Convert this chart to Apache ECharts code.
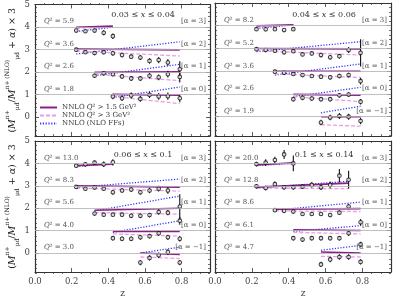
<!DOCTYPE html>
<html><head><meta charset="utf-8">
<script src="https://cdn.jsdelivr.net/npm/echarts@6/dist/echarts.min.js"></script>
<style>html,body{margin:0;padding:0;background:#fff}#c{width:399px;height:299px}</style>
</head><body><div id="c"></div>
<script>
// ---------- data ----------
const zBins = [0.225,0.275,0.325,0.375,0.425,0.475,0.525,0.575,0.625,0.675,0.725,0.79];
const xTickLabels = [0, 0.2, 0.4, 0.6, 0.8];
const yTickLabels = [0, 1, 2, 3, 4, 5];
const legendNames = ['NNLO Q² > 1.5 GeV²', 'NNLO Q² > 3 GeV²', 'NNLO (NLO FFs)'];

// top-left: 0.03 <= x <= 0.04
const tlTitle = '0.03 ≤ {i|x} ≤ 0.04';
const tlQ2 = ['5.9','3.6','2.6','1.8'];
const tlAlpha = [3,2,1,0];
const tlFirst = [0,0,2,4];
const tlLast = [4,11,11,11];
const tlVal = [
  [3.84,3.81,3.84,3.74,3.59],
  [2.99,2.88,2.84,2.88,2.83,2.75,2.68,2.64,2.49,2.53,2.42,2.12],
  [1.83,1.94,1.90,1.80,1.71,1.71,1.83,1.76,1.90,1.78],
  [0.91,0.83,0.95,0.80,0.98,0.91,0.92,0.83]
];
const tlErr = [
  [0.08,0.08,0.09,0.11,0.12],
  [0.09,0.08,0.09,0.09,0.10,0.10,0.10,0.11,0.12,0.14,0.15,0.35],
  [0.09,0.09,0.09,0.10,0.11,0.11,0.12,0.13,0.15,0.25],
  [0.12,0.12,0.13,0.13,0.14,0.15,0.16,0.18]
];
const tlSolid = [[3.99,4.04],[3.02,2.98],[1.98,2.01],[1.00,0.97]];
const tlDashed = [[3.94,4.00],[2.93,2.71],[1.90,1.61],[0.91,0.59]];
const tlDotted = [[3.80,3.99],[2.80,3.34],[1.83,2.34],[0.86,1.33]];

// top-right: 0.04 <= x <= 0.06
const trTitle = '0.04 ≤ {i|x} ≤ 0.06';
const trQ2 = ['8.2','5.2','3.6','2.6','1.9'];
const trAlpha = [3,2,1,0,-1];
const trFirst = [0,0,2,4,7];
const trLast = [4,11,11,11,11];
const trVal = [
  [3.85,3.84,3.85,3.81,3.85],
  [2.97,2.93,2.90,2.83,2.88,2.74,2.78,2.71,2.61,2.66,2.93,2.81],
  [1.98,1.93,1.88,1.83,1.79,1.76,1.73,1.79,1.83,1.56],
  [0.77,0.83,0.80,0.77,0.77,0.94,0.97,0.66],
  [-0.26,-0.04,0.03,0.00,-0.19]
];
const trErr = [
  [0.07,0.07,0.07,0.07,0.08],
  [0.08,0.08,0.08,0.08,0.08,0.08,0.09,0.10,0.10,0.10,0.13,0.60],
  [0.08,0.08,0.08,0.08,0.08,0.09,0.09,0.10,0.10,0.15],
  [0.10,0.10,0.10,0.10,0.10,0.10,0.10,0.12],
  [0.12,0.12,0.13,0.13,0.14]
];
const trSolid = [[4.00,4.04],[3.00,2.98],[2.00,2.00],[0.98,0.95],[0.00,0.00]];
const trDashed = [[3.95,4.02],[2.90,2.71],[1.88,1.72],[0.88,0.66],[-0.35,-0.42]];
const trDotted = [[3.88,4.04],[2.86,3.30],[1.83,2.32],[0.88,1.29],[0.17,0.46]];

// bottom-left: 0.06 <= x <= 0.1
const blTitle = '0.06 ≤ {i|x} ≤ 0.1';
const blQ2 = ['13.0','8.3','5.6','4.0','3.0'];
const blAlpha = [3,2,1,0,-1];
const blFirst = [0,0,2,4,7];
const blLast = [4,11,11,11,11];
const blVal = [
  [3.90,3.96,4.03,3.96,4.05],
  [2.95,2.87,2.92,2.87,2.71,2.79,2.83,2.71,2.79,2.87,2.79,2.07],
  [1.76,1.71,1.71,1.71,1.66,1.66,1.69,1.83,1.80,1.44],
  [0.66,0.63,0.63,0.70,0.75,0.88,0.70,0.63],
  [-0.43,-0.22,-0.10,0.04,-0.43]
];
const blErr = [
  [0.08,0.10,0.10,0.12,0.14],
  [0.08,0.08,0.08,0.08,0.10,0.10,0.10,0.10,0.12,0.13,0.15,0.55],
  [0.08,0.08,0.08,0.09,0.09,0.10,0.10,0.12,0.12,0.18],
  [0.10,0.10,0.10,0.10,0.10,0.11,0.11,0.12],
  [0.12,0.12,0.12,0.13,0.12]
];
const blSolid = [[3.90,3.97],[3.00,2.94],[1.91,2.00],[0.96,0.96],[0.00,-0.07]];
const blDashed = [[3.88,3.95],[2.90,2.76],[1.80,1.73],[0.85,0.75],[-0.18,-0.25]];
const blDotted = [[3.87,3.98],[2.93,3.30],[1.88,2.54],[0.92,1.44],[0.00,0.26]];

// bottom-right: 0.1 <= x <= 0.14
const brTitle = '0.1 ≤ {i|x} ≤ 0.14';
const brQ2 = ['20.0','12.8','8.6','6.1','4.7'];
const brAlpha = [3,2,1,0,-1];
const brFirst = [0,0,2,4,7];
const brLast = [4,10,11,11,11];
const brVal = [
  [3.97,4.03,4.15,4.40,4.00],
  [2.98,2.90,3.07,2.93,2.93,2.96,3.04,2.93,3.04,3.45,3.27],
  [1.91,1.88,1.85,1.74,1.74,1.74,1.69,1.80,2.07],
  [0.66,0.60,0.66,0.66,0.66,0.66,0.88,1.37],
  [-0.51,-0.29,-0.18,-0.18,-0.40]
];
const brErr = [
  [0.10,0.15,0.15,0.20,0.35],
  [0.10,0.10,0.12,0.10,0.10,0.10,0.12,0.12,0.15,0.30,0.40],
  [0.08,0.08,0.08,0.08,0.08,0.08,0.08,0.10,0.12],
  [0.10,0.10,0.10,0.10,0.10,0.10,0.12,0.15],
  [0.12,0.12,0.12,0.12,0.12]
];
const brSolid = [[3.93,4.03],[2.94,3.12],[1.95,1.98],[1.03,1.00],[0.04,0.00]];
const brDashed = [[3.92,4.00],[2.90,2.87],[1.88,1.85],[0.92,0.85],[-0.15,-0.18]];
const brDotted = [[3.90,4.00],[2.90,3.20],[1.91,2.27],[0.96,1.22],[0.12,0.34]];
const brExtraIdx = [11];
const brExtraVal = [0.38];
const brExtraErr = [0.12];

// ---------- build ----------
const SERIF = "'DejaVu Serif', 'Liberation Serif', serif";
const XMAX = 0.955, YMIN = -0.85, YMAX = 5;
const FRAME = {color:'#333', width:1.2};
const TXT = '#444';
const rects = [[35,3,175,133],[215,3,176,133],[35,141,175,133],[215,141,176,133]];
const panels = [
  {title:tlTitle,q2:tlQ2,alpha:tlAlpha,first:tlFirst,last:tlLast,val:tlVal,err:tlErr,solid:tlSolid,dashed:tlDashed,dotted:tlDotted,extra:null},
  {title:trTitle,q2:trQ2,alpha:trAlpha,first:trFirst,last:trLast,val:trVal,err:trErr,solid:trSolid,dashed:trDashed,dotted:trDotted,extra:null},
  {title:blTitle,q2:blQ2,alpha:blAlpha,first:blFirst,last:blLast,val:blVal,err:blErr,solid:blSolid,dashed:blDashed,dotted:blDotted,extra:null},
  {title:brTitle,q2:brQ2,alpha:brAlpha,first:brFirst,last:brLast,val:brVal,err:brErr,solid:brSolid,dashed:brDashed,dotted:brDotted,
   extra:{idx:brExtraIdx,val:brExtraVal,err:brExtraErr}}
];
const xMinor = [];
for (let k = 1; k < 19; k++) { if (k % 4) xMinor.push(+(k*0.05).toFixed(2)); }
const yMinor = [];
for (let k = -4; k < 25; k++) { if (k % 5) yMinor.push(+(k*0.2).toFixed(1)); }

const grids = [], xAxes = [], yAxes = [], series = [], graphics = [];
const yName = '{t|(}{it|M}{sp|π+}{sb|μd}{t|/}{it|M}{sp|π+ (NLO)}{sb|μd}{t| + }{it|α}{t|) × 3}';
const yNameRich = {
  t:{fontFamily:SERIF,fontSize:9.5,color:'#222',lineHeight:16},
  it:{fontFamily:SERIF,fontSize:9.5,fontStyle:'italic',color:'#222',lineHeight:16},
  sp:{fontFamily:SERIF,fontSize:6,color:'#222',verticalAlign:'top'},
  sb:{fontFamily:SERIF,fontSize:6,color:'#222',verticalAlign:'bottom'}
};

rects.forEach((r,p) => { grids.push({left:r[0],top:r[1],width:r[2],height:r[3]}); });
rects.forEach((r,p) => { grids.push({left:r[0],top:r[1],width:r[2],height:r[3]}); });

panels.forEach((P,p) => {
  const isBottom = p >= 2, isLeft = p % 2 === 0;
  xAxes.push({gridIndex:p,type:'value',position:'bottom',min:0,max:XMAX,
    axisLine:{show:true,onZero:false,lineStyle:FRAME},
    axisTick:{show:true,inside:true,length:4,customValues:xTickLabels,lineStyle:{color:'#333',width:0.8}},
    axisLabel:{show:isBottom,customValues:xTickLabels,formatter:v=>v.toFixed(1),margin:5,color:TXT,fontFamily:SERIF,fontSize:8.5},
    splitLine:{show:false},
    name:isBottom?'z':'',nameLocation:'middle',nameGap:17,nameTextStyle:{fontFamily:SERIF,fontSize:9,color:TXT}});
  xAxes.push({gridIndex:p,type:'value',position:'top',min:0,max:XMAX,
    axisLine:{show:true,onZero:false,lineStyle:FRAME},
    axisTick:{show:true,inside:true,length:4,customValues:xTickLabels,lineStyle:{color:'#333',width:0.8}},
    axisLabel:{show:false},splitLine:{show:false}});
  yAxes.push({gridIndex:p,type:'value',position:'left',min:YMIN,max:YMAX,
    axisLine:{show:true,onZero:false,lineStyle:FRAME},
    axisTick:{show:true,inside:true,length:4,customValues:yTickLabels,lineStyle:{color:'#333',width:0.8}},
    axisLabel:{show:isLeft,customValues:yTickLabels,margin:5,color:TXT,fontFamily:SERIF,fontSize:8.5},
    splitLine:{show:false},
    name:isLeft?yName:'',nameLocation:'middle',nameRotate:90,nameGap:11,nameTextStyle:{rich:yNameRich}});
  yAxes.push({gridIndex:p,type:'value',position:'right',min:YMIN,max:YMAX,
    axisLine:{show:true,onZero:false,lineStyle:FRAME},
    axisTick:{show:true,inside:true,length:4,customValues:yTickLabels,lineStyle:{color:'#333',width:0.8}},
    axisLabel:{show:false},splitLine:{show:false}});
});
panels.forEach((P,p) => {
  const g = p + 4;
  ['bottom','top'].forEach(pos => xAxes.push({gridIndex:g,type:'value',position:pos,min:0,max:XMAX,
    axisLine:{show:false,onZero:false},axisTick:{show:true,inside:true,length:2,customValues:xMinor,lineStyle:{color:'#333',width:0.7}},
    axisLabel:{show:false},splitLine:{show:false}}));
  ['left','right'].forEach(pos => yAxes.push({gridIndex:g,type:'value',position:pos,min:YMIN,max:YMAX,
    axisLine:{show:false,onZero:false},axisTick:{show:true,inside:true,length:2,customValues:yMinor,lineStyle:{color:'#333',width:0.7}},
    axisLabel:{show:false},splitLine:{show:false}}));
});

const labelRich = {
  i:{fontFamily:SERIF,fontSize:7,fontStyle:'italic',color:'#555'},
  n:{fontFamily:SERIF,fontSize:7,color:'#555'}
};
const lineStyles = [
  {color:'#8b1e8b',width:1.6,type:'solid'},
  {color:'#e6a0e4',width:1.3,type:[4,2]},
  {color:'#3535ff',width:1.3,type:[1.2,1.6]}
];
panels.forEach((P,p) => {
  const xi = 2*p, yi = 2*p;
  const ml = [];
  P.alpha.forEach((a,k) => {
    const yv = 1 + a;
    ml.push({yAxis:yv,label:{show:true,position:'insideStartTop',distance:[9,2],
      formatter:'{i|Q}{n|² = ' + P.q2[k] + '}',rich:labelRich}});
    ml.push({yAxis:yv,lineStyle:{color:'rgba(0,0,0,0)'},label:{show:true,position:'insideEndTop',distance:[4,2],
      formatter:'{n|[α = ' + (a < 0 ? '−' + (-a) : a) + ']}',rich:labelRich}});
  });
  series.push({type:'line',xAxisIndex:xi,yAxisIndex:yi,data:[],z:1,silent:true,
    markLine:{silent:true,symbol:'none',animation:false,lineStyle:{color:'#b0b0b0',width:0.8,type:'solid'},data:ml}});
  [P.solid, P.dashed, P.dotted].forEach((arr,si) => {
    const ls = lineStyles[si];
    arr.forEach((pair,k) => {
      series.push({type:'line',name:legendNames[si],xAxisIndex:xi,yAxisIndex:yi,symbol:'none',silent:true,animation:false,
        z:2+(2-si)*0.1,
        lineStyle:ls,itemStyle:{color:ls.color},
        data:[[zBins[P.first[k]],pair[0]],[zBins[P.last[k]],pair[1]]]});
    });
  });
  const pts = [];
  P.val.forEach((row,k) => row.forEach((v,j) => pts.push([zBins[P.first[k]+j], v, P.err[k][j]])));
  if (P.extra) P.extra.idx.forEach((ix,j) => pts.push([zBins[ix], P.extra.val[j], P.extra.err[j]]));
  series.push({type:'custom',xAxisIndex:xi,yAxisIndex:yi,silent:true,animation:false,z:3,
    data:pts.map(d=>[d[0],d[1]-d[2],d[1]+d[2]]),encode:{x:0,y:[1,2]},
    renderItem:(params,api)=>{
      const lo = api.coord([api.value(0),api.value(1)]);
      const hi = api.coord([api.value(0),api.value(2)]);
      return {type:'line',shape:{x1:lo[0],y1:lo[1],x2:hi[0],y2:hi[1]},style:{stroke:'#111',lineWidth:1.1}};
    }});
  series.push({type:'scatter',xAxisIndex:xi,yAxisIndex:yi,silent:true,animation:false,z:4,
    symbol:'circle',symbolSize:3.6,itemStyle:{color:'#fff',borderColor:'#111',borderWidth:1.1},
    data:pts.map(d=>[d[0],d[1]])});
});

const titlePos = [[143,15],[324,15],[143,155],[324,155]];
panels.forEach((P,p) => {
  graphics.push({type:'text',x:titlePos[p][0],y:titlePos[p][1],silent:true,
    style:{text:P.title,align:'center',verticalAlign:'middle',fill:'#333',font:'8px '+SERIF,
      rich:{i:{fontStyle:'italic',fontFamily:SERIF,fontSize:8,fill:'#333'}}}});
});

const chart = echarts.init(document.getElementById('c'), null, {renderer:'canvas'});
chart.setOption({
  animation:false,
  backgroundColor:'#fff',
  grid:grids, xAxis:xAxes, yAxis:yAxes, series:series, graphic:graphics,
  legend:{data:legendNames,orient:'vertical',left:39,top:104,itemWidth:17,itemHeight:8,itemGap:1,
    selectedMode:false,padding:0,
    itemStyle:{opacity:0},
    formatter:n=>n.replace('Q²','{i|Q}²'),
    textStyle:{fontFamily:SERIF,fontSize:7,color:'#333',rich:{i:{fontStyle:'italic',fontFamily:SERIF,fontSize:7,color:'#333'}}}}
});
</script></body></html>
